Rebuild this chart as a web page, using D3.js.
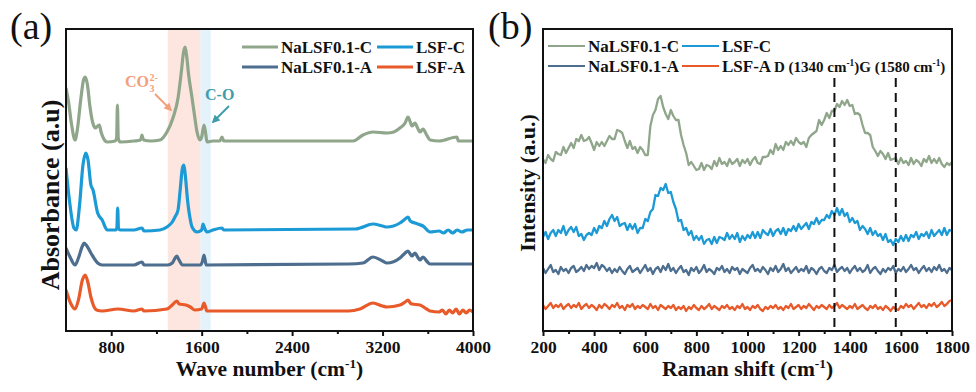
<!DOCTYPE html>
<html><head><meta charset="utf-8">
<script src="https://cdn.jsdelivr.net/npm/d3@7"></script>
<style>
html,body{margin:0;padding:0;background:#fff;}
svg{display:block;font-family:"Liberation Serif","Times New Roman",serif;}
</style></head><body>
<svg id="c" width="976" height="392"></svg>
<script>
// ---------- data ----------
const seriesNames = ["NaLSF0.1-C", "LSF-C", "NaLSF0.1-A", "LSF-A"];
const seriesColors = ["#8fa68b", "#1c9ad6", "#4d6e8e", "#e85a2a"];

const ftirTicks = [800, 1600, 2400, 3200, 4000];
const ftirMinorTicks = [1200, 2000, 2800, 3600];
const ramanTicks = [200, 400, 600, 800, 1000, 1200, 1400, 1600, 1800];
const ramanMinorTicks = [300, 500, 700, 900, 1100, 1300, 1500, 1700];

const carbonateBand = [1300, 1590];
const coBand = [1590, 1680];
const ramanBands = [1340, 1580];

// FTIR spectra: [wave number, absorbance (a.u., offset)]
const ftir_NaC = [[400,243],[420,231],[450,206],[480,191],[500,201],[530,231],[555,251],[570,254],[590,246],[610,226],[635,209],[660,203],[680,205],[695,206],[710,199],[740,191],[763,189],[835,190],[848,193],[855,226],[862,193],[878,189],[1000,190],[1060,191],[1072,196],[1085,191],[1150,190],[1231,191],[1293,199],[1346,213],[1391,233],[1420,259],[1440,279],[1453,284],[1466,276],[1485,256],[1515,233],[1540,213],[1559,199],[1585,191],[1600,194],[1621,206],[1635,198],[1647,189],[1700,190],[1760,190],[1780,194],[1795,190],[1900,190],[2500,190],[2939,190],[3027,196],[3115,199],[3239,198],[3300,199],[3354,203],[3400,208],[3425,214],[3445,209],[3460,205],[3487,208],[3510,203],[3531,199],[3558,202],[3590,196],[3620,191],[3700,190],[3858,194],[3870,190],[4000,190]];
const ftir_LSFC = [[400,163],[430,131],[470,103],[490,101],[520,126],[550,166],[575,178],[595,171],[620,146],[639,141],[680,118],[720,111],[765,101],[840,101],[850,103],[857,123],[864,103],[878,101],[1000,101],[1072,103],[1090,100],[1231,101],[1293,104],[1340,109],[1364,114],[1391,121],[1410,141],[1430,163],[1443,166],[1455,156],[1475,131],[1500,111],[1515,104],[1559,99],[1600,101],[1612,107],[1625,103],[1647,99],[1700,101],[1780,103],[1795,101],[2960,102],[3000,103],[3115,107],[3200,105],[3239,104],[3354,108],[3400,112],[3425,114],[3445,110],[3460,109],[3487,108],[3510,107],[3558,105],[3620,99],[3700,100],[3740,98],[3780,101],[3820,98],[3860,101],[3900,99],[3950,101],[4000,101]];
const ftir_NaA = [[400,83],[440,73],[480,66],[510,73],[545,85],[560,88],[585,85],[620,78],[680,68],[720,66],[1000,66],[1072,69],[1090,66],[1300,66],[1340,68],[1380,75],[1400,71],[1430,66],[1590,66],[1605,69],[1621,76],[1640,66],[2900,67],[3027,68],[3115,74],[3200,70],[3239,68],[3354,73],[3400,78],[3425,80],[3445,77],[3460,75],[3487,78],[3510,74],[3531,71],[3558,74],[3590,70],[3620,67],[4000,67]];
const ftir_LSFA = [[400,41],[440,28],[480,22],[510,31],[545,51],[570,56],[595,48],[620,34],[670,21],[720,20],[860,22],[1000,20],[1072,22],[1090,20],[1293,22],[1340,26],[1380,30],[1400,27],[1460,26],[1500,24],[1540,21],[1600,22],[1621,28],[1647,20],[2900,20],[3000,22],[3115,28],[3200,25],[3239,24],[3354,26],[3400,29],[3425,31],[3445,28],[3460,27],[3531,26],[3590,22],[3620,20],[3700,19],[3730,21],[3760,17],[3790,21],[3820,18],[3850,22],[3880,17],[3910,21],[3940,18],[3970,21],[4000,19]];

// Raman spectra sampled every 10 cm-1 from 200 to 1800
const ramanShift = d3.range(200, 1801, 10);
const raman_NaC = [
172,168,176,172,170,179,177,176,184,178,
183,188,183,192,190,196,190,191,194,188,
181,189,185,189,185,190,195,192,192,201,
200,198,190,183,190,182,184,178,184,181,
176,176,205,216,221,232,235,224,217,212,
221,215,211,211,196,186,178,166,169,165,
161,162,168,161,166,165,162,170,165,173,
167,169,165,172,167,169,172,165,171,168,
172,166,171,174,168,167,174,174,175,181,
177,187,181,185,181,189,186,190,186,193,
189,187,189,184,193,196,198,200,211,206,
211,218,213,220,220,227,224,230,226,231,
225,226,217,218,216,206,198,198,196,184,
180,175,180,177,172,178,171,172,173,167,
173,168,170,166,173,167,171,169,165,172,
169,175,168,172,168,173,167,164,168,166,
169];
const raman_LSFC = [
94,99,92,98,101,95,101,98,105,96,
101,104,99,104,95,97,91,96,98,96,
103,98,105,103,110,105,112,116,110,114,
105,107,108,101,107,102,107,98,103,103,
112,110,119,122,136,135,143,141,147,138,
139,129,122,110,111,101,103,96,100,91,
95,91,95,87,91,92,87,94,88,94,
93,91,98,92,96,92,98,89,95,91,
96,93,99,93,99,93,101,98,96,102,
95,100,102,97,103,96,102,100,105,100,
107,102,105,108,102,109,107,113,107,111,
111,116,113,120,116,123,116,122,115,118,
109,113,108,110,101,105,102,97,103,96,
100,95,97,91,97,89,91,86,92,89,
95,90,96,90,96,94,99,92,97,95,
99,93,101,95,98,101,96,103,96,101,
100];
const raman_NaA = [
63,58,62,66,59,61,57,64,60,62,
58,63,65,59,61,64,60,66,62,65,
63,68,61,66,64,60,63,58,62,59,
64,60,57,62,65,59,61,63,58,62,
66,60,63,57,62,64,59,65,61,67,
60,63,58,62,65,59,61,56,63,60,
64,58,61,66,59,62,60,57,63,61,
65,59,62,58,64,61,63,57,62,60,
58,63,66,60,62,59,64,61,57,63,
60,65,59,62,67,60,63,58,61,64,
59,62,60,65,58,63,61,57,62,64,
60,58,63,61,66,59,62,64,60,63,
58,62,65,60,63,59,61,66,58,62,
64,60,57,62,59,63,61,65,58,62,
60,64,59,62,66,61,63,58,62,65,
60,63,59,64,61,66,60,62,58,63,
61];
const raman_LSFA = [
26,22,25,28,23,26,24,27,22,25,
27,23,26,24,28,22,25,27,23,26,
24,21,26,23,27,25,22,26,24,28,
23,25,21,26,24,27,22,25,23,26,
24,22,27,23,25,21,26,24,22,25,
23,26,21,24,22,25,20,24,22,26,
23,21,25,22,24,27,22,25,23,21,
25,23,26,22,24,21,25,23,27,22,
24,21,25,23,26,22,20,24,22,25,
23,26,22,24,21,25,23,27,22,24,
26,22,25,23,27,24,21,25,23,26,
24,22,26,23,25,28,23,26,24,22,
25,23,27,22,24,26,23,21,25,23,
26,22,24,21,25,23,20,24,22,21,
25,23,27,24,26,22,25,28,24,26,
23,27,25,28,24,26,29,25,27,30,
31];

// ---------- drawing ----------
const svg = d3.select("#c");
const FONT = '"Liberation Serif","Times New Roman",serif';

const A = {l: 66, r: 473, t: 29, b: 331};
const B = {l: 543, r: 952, t: 29, b: 331};

const xA = d3.scaleLinear().domain([400, 4000]).range([A.l, A.r]);
const yA = d3.scaleLinear().domain([0, 302]).range([A.b, A.t]);
const xB = d3.scaleLinear().domain([200, 1800]).range([B.l, B.r]);
const yB = d3.scaleLinear().domain([0, 302]).range([B.b, B.t]);

const defs = svg.append("defs");
[["clipA", A], ["clipB", B]].forEach(([id, P]) => {
  defs.append("clipPath").attr("id", id).append("rect")
    .attr("x", P.l).attr("y", P.t).attr("width", P.r - P.l).attr("height", P.b - P.t);
});
function marker(id, color) {
  defs.append("marker").attr("id", id).attr("viewBox", "0 0 10 10")
    .attr("refX", 8).attr("refY", 5).attr("markerWidth", 4).attr("markerHeight", 4)
    .attr("orient", "auto").attr("markerUnits", "strokeWidth")
    .append("path").attr("d", "M0,0 L10,5 L0,10 z").attr("fill", color);
}
marker("arrSalmon", "#f2a07c");
marker("arrTeal", "#3f9cab");

// rich text helper: parts = [[text, 'n'|'sup'|'sub'], ...]
function rich(g, x, y, parts, size, opts = {}) {
  const t = g.append("text").attr("x", x).attr("y", y)
    .attr("font-family", FONT).attr("font-size", size)
    .attr("font-weight", opts.weight || "bold")
    .attr("fill", opts.fill || "#111")
    .attr("text-anchor", opts.anchor || "start");
  if (opts.transform) t.attr("transform", opts.transform);
  let cur = 0;
  parts.forEach(([s, k]) => {
    const ts = t.append("tspan").text(s);
    let target = 0, fs = size;
    if (k === "sup") { target = -size * 0.38; fs = size * 0.62; }
    if (k === "sub") { target = size * 0.2; fs = size * 0.62; }
    ts.attr("font-size", fs).attr("dy", target - cur);
    cur = target;
  });
  return t;
}

// ===== Panel (a) =====
const gA = svg.append("g");
gA.append("rect").attr("x", xA(carbonateBand[0])).attr("y", A.t)
  .attr("width", xA(carbonateBand[1]) - xA(carbonateBand[0])).attr("height", A.b - A.t)
  .attr("fill", "#fde6e0");
gA.append("rect").attr("x", xA(coBand[0])).attr("y", A.t)
  .attr("width", xA(coBand[1]) - xA(coBand[0])).attr("height", A.b - A.t)
  .attr("fill", "#e4f2fb");

const lineA = d3.line().x(d => xA(d[0])).y(d => yA(d[1])).curve(d3.curveMonotoneX);
const ftirAll = [ftir_NaC, ftir_LSFC, ftir_NaA, ftir_LSFA];
const gLA = gA.append("g").attr("clip-path", "url(#clipA)");
ftirAll.forEach((s, i) => {
  gLA.append("path").datum(s).attr("d", lineA).attr("fill", "none")
    .attr("stroke", seriesColors[i]).attr("stroke-width", 3.2).attr("stroke-linejoin", "round");
});

// annotations
const co = gA.append("text").attr("x", 125).attr("y", 87).attr("font-family", FONT)
  .attr("font-size", 16).attr("font-weight", "bold").attr("fill", "#f2a07c").text("CO");
const coW = co.node().getComputedTextLength();
gA.append("text").attr("x", 125 + coW + 0.5).attr("y", 81).attr("font-family", FONT)
  .attr("font-size", 10).attr("font-weight", "bold").attr("fill", "#f2a07c").text("2-");
gA.append("text").attr("x", 125 + coW + 0.5).attr("y", 92).attr("font-family", FONT)
  .attr("font-size", 10).attr("font-weight", "bold").attr("fill", "#f2a07c").text("3");
gA.append("line").attr("x1", 155).attr("y1", 94).attr("x2", 171).attr("y2", 110)
  .attr("stroke", "#f2a07c").attr("stroke-width", 2).attr("marker-end", "url(#arrSalmon)");
gA.append("text").attr("x", 205).attr("y", 100).attr("font-family", FONT)
  .attr("font-size", 16).attr("font-weight", "bold").attr("fill", "#3f9cab").text("C-O");
gA.append("line").attr("x1", 229).attr("y1", 106).attr("x2", 213).attr("y2", 122)
  .attr("stroke", "#3f9cab").attr("stroke-width", 2).attr("marker-end", "url(#arrTeal)");

// axes
function styleAxis(g) {
  g.select(".domain").remove();
  g.selectAll("line").attr("stroke", "#111").attr("stroke-width", 2);
  g.selectAll("text").attr("font-family", FONT).attr("font-size", 17.5)
    .attr("font-weight", "bold").attr("fill", "#111");
}
gA.append("g").attr("transform", `translate(0,${A.b})`)
  .call(d3.axisBottom(xA).tickValues(ftirTicks).tickSize(5).tickPadding(5).tickFormat(d3.format("d")))
  .call(styleAxis);
gA.append("g").attr("transform", `translate(0,${A.b})`)
  .call(d3.axisBottom(xA).tickValues(ftirMinorTicks).tickSize(3).tickFormat(""))
  .call(styleAxis);
gA.append("rect").attr("x", A.l).attr("y", A.t).attr("width", A.r - A.l).attr("height", A.b - A.t)
  .attr("fill", "none").attr("stroke", "#111").attr("stroke-width", 2);

rich(gA, (A.l + A.r) / 2, 376, [["Wave number (cm", "n"], ["-1", "sup"], [")", "n"]], 21.5, {anchor: "middle"});
rich(gA, 0, 0, [["Absorbance (a.u)", "n"]], 26, {anchor: "middle", transform: `translate(59,195) rotate(-90)`});
gA.append("text").attr("x", 10).attr("y", 39).attr("font-family", FONT).attr("font-size", 38)
  .attr("fill", "#111").text("(a)");

// legend
function legend(g, cols, rows, lineLen, lw) {
  seriesNames.forEach((n, i) => {
    const cx = cols[i % 2], cy = rows[Math.floor(i / 2)];
    g.append("line").attr("x1", cx).attr("x2", cx + lineLen).attr("y1", cy).attr("y2", cy)
      .attr("stroke", seriesColors[i]).attr("stroke-width", lw);
    g.append("text").attr("x", cx + lineLen + 3).attr("y", cy + 5.5).attr("font-family", FONT)
      .attr("font-size", 17).attr("font-weight", "bold").attr("fill", "#111").text(n);
  });
}
legend(gA, [242, 377], [47, 67], 36, 3);

// ===== Panel (b) =====
const gB = svg.append("g");
const lineB = d3.line().x((d, i) => xB(ramanShift[i])).y(d => yB(d)).curve(d3.curveLinear);
const ramanAll = [raman_NaC, raman_LSFC, raman_NaA, raman_LSFA];
const gLB = gB.append("g").attr("clip-path", "url(#clipB)");
ramanAll.forEach((s, i) => {
  gLB.append("path").datum(s).attr("d", lineB).attr("fill", "none")
    .attr("stroke", seriesColors[i]).attr("stroke-width", 2.3).attr("stroke-linejoin", "round");
});
ramanBands.forEach(v => {
  gB.append("line").attr("x1", xB(v)).attr("x2", xB(v)).attr("y1", 78).attr("y2", B.b)
    .attr("stroke", "#111").attr("stroke-width", 2).attr("stroke-dasharray", "9,6");
});
rich(gB, 774, 72, [["D (1340 cm", "n"], ["-1", "sup"], [")G (1580 cm", "n"], ["-1", "sup"], [")", "n"]], 15);

gB.append("g").attr("transform", `translate(0,${B.b})`)
  .call(d3.axisBottom(xB).tickValues(ramanTicks).tickSize(5).tickPadding(5).tickFormat(d3.format("d")))
  .call(styleAxis);
gB.append("g").attr("transform", `translate(0,${B.b})`)
  .call(d3.axisBottom(xB).tickValues(ramanMinorTicks).tickSize(3).tickFormat(""))
  .call(styleAxis);
gB.append("rect").attr("x", B.l).attr("y", B.t).attr("width", B.r - B.l).attr("height", B.b - B.t)
  .attr("fill", "none").attr("stroke", "#111").attr("stroke-width", 2);

rich(gB, (B.l + B.r) / 2, 376, [["Raman shift (cm", "n"], ["-1", "sup"], [")", "n"]], 21.5, {anchor: "middle"});
rich(gB, 0, 0, [["Intensity (a.u.)", "n"]], 22, {anchor: "middle", transform: `translate(535,183) rotate(-90)`});
gB.append("text").attr("x", 488).attr("y", 39).attr("font-family", FONT).attr("font-size", 38)
  .attr("fill", "#111").text("(b)");
legend(gB, [548, 682], [46, 66], 37, 2);
</script>
</body></html>
